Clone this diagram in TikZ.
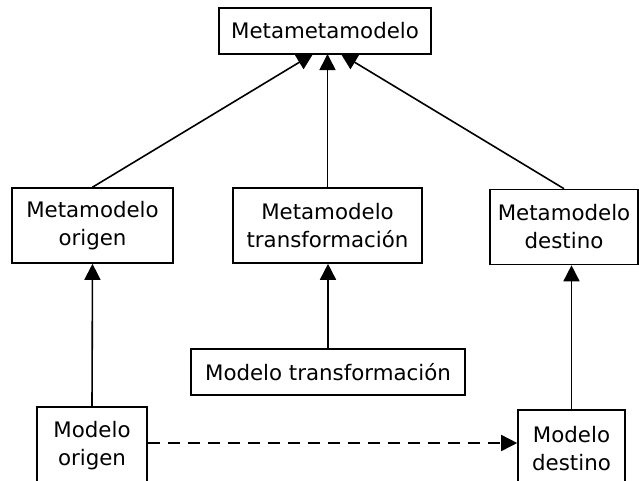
\documentclass[tikz,border=0pt]{standalone}
\usepackage{fontspec}
\setmainfont{DejaVu Sans}
\usetikzlibrary{arrows.meta}

\begin{document}
\begin{tikzpicture}[x=0.75pt,y=-0.75pt,
        caja/.style={draw,line width=1.2pt,align=center,inner sep=0pt,font=\fontsize{16}{21}\selectfont},
        flecha/.style={line width=1.2pt,-{Triangle[length=12pt,width=12pt]}}]
        \useasboundingbox (0,0) rectangle (639,480);
        \node[caja,minimum width=159pt,minimum height=34.5pt](mmm) at (325,31) {Metametamodelo};
        \node[caja,minimum width=120.75pt,minimum height=56.25pt](mmorigen) at (92.5,225.5) {Metamodelo\\origen};
        \node[caja,minimum width=141.75pt,minimum height=56.25pt](mmtransf) at (327.5,225.5) {Metamodelo\\transformación};
        \node[caja,minimum width=111pt,minimum height=56.25pt](mmdestino) at (564,227) {Metamodelo\\destino};
        \node[caja,minimum width=205.5pt,minimum height=34.5pt](mtransf) at (328,372) {Modelo transformación};
        \node[caja,minimum width=82.5pt,minimum height=58.5pt](morigen) at (92,446) {Modelo\\origen};
        \node[caja,minimum width=80.25pt,minimum height=58.5pt](mdestino) at (571.5,449) {Modelo\\destino};
        \coordinate(pa) at (313,54);
        \coordinate(pb) at (327.5,54);
        \coordinate(pc) at (341,54);
        \draw[flecha](mmorigen.north)--(pa);
        \draw[flecha](mmtransf.north)--(pb);
        \draw[flecha](mmdestino.north)--(pc);
        \draw[flecha](morigen.north)--(mmorigen.south);
        \draw[flecha](mtransf.north)--(mtransf.north |- mmtransf.south);
        \draw[flecha](mdestino.north)--(mdestino.north |- mmdestino.south);
        \draw[flecha,dash pattern=on 9pt off 6pt](morigen.east |- 0,443)--(mdestino.west |- 0,443);
        \end{tikzpicture}
\end{document}
